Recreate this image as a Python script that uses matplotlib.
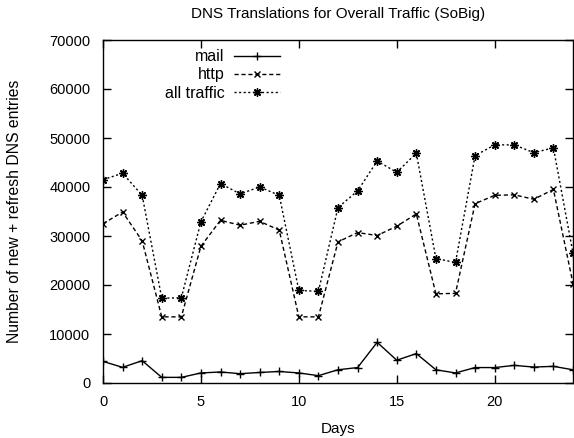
import matplotlib
matplotlib.use("Agg")
import matplotlib.pyplot as plt

plt.rcParams['font.family'] = ['Liberation Sans', 'DejaVu Sans']

# dias e valores
days = list(range(0, 25))
mail = [4400, 3200, 4550, 1150, 1150, 2050, 2250, 1900, 2150, 2350, 2050, 1500,
        2700, 3150, 8300, 4650, 6000, 2700, 2050, 3150, 3150, 3600, 3250, 3400, 2700]
http = [32500, 34900, 29000, 13500, 13500, 27900, 33200, 32200, 33000, 31200, 13500, 13500,
        28800, 30700, 30100, 32000, 34500, 18200, 18300, 36600, 38300, 38400, 37500, 39500, 20300]
all_traffic = [41500, 42800, 38300, 17300, 17400, 32900, 40700, 38600, 40000, 38300, 18900, 18700,
               35800, 39200, 45300, 43000, 46900, 25400, 24600, 46400, 48600, 48600, 47000, 48000, 26500]

fig = plt.figure(figsize=(5.74, 4.38), dpi=100)
ax = fig.add_axes([103/574, 1-383/438, 470/574, 343/438])

ax.plot(days, mail, color='black', lw=1, ls='-', marker='+', ms=6, mew=1, label='mail')
ax.plot(days, http, color='black', lw=1, ls=(0, (3, 2)), marker='x', ms=5, mew=1, label='http')
ax.plot(days, all_traffic, color='black', lw=1, ls=(0, (1.5, 1.8)), marker=(8, 2, 0), ms=6, mew=1,
        label='all traffic')

ax.set_xlim(0, 24)
ax.set_ylim(0, 70000)
ax.set_xticks([0, 5, 10, 15, 20])
ax.set_yticks(range(0, 70001, 10000))
ax.tick_params(direction='in', top=True, right=True, length=6, width=1, labelsize=10.5, pad=9)
for s in ax.spines.values():
    s.set_linewidth(1)

ax.set_title("DNS Translations for Overall Traffic (SoBig)", fontsize=11, pad=16)
ax.set_xlabel("Days", fontsize=11, labelpad=9)
ax.set_ylabel("Number of new + refresh DNS entries", fontsize=11.3)
ax.yaxis.set_label_coords(-0.172, 0.5)

ax.legend(loc='upper right', bbox_to_anchor=(0.377, 0.973), frameon=False, markerfirst=False,
          fontsize=11.5, handlelength=2.9, labelspacing=0.2, handletextpad=0.6,
          borderpad=0, borderaxespad=0)

plt.savefig("out.png")
plt.close()
